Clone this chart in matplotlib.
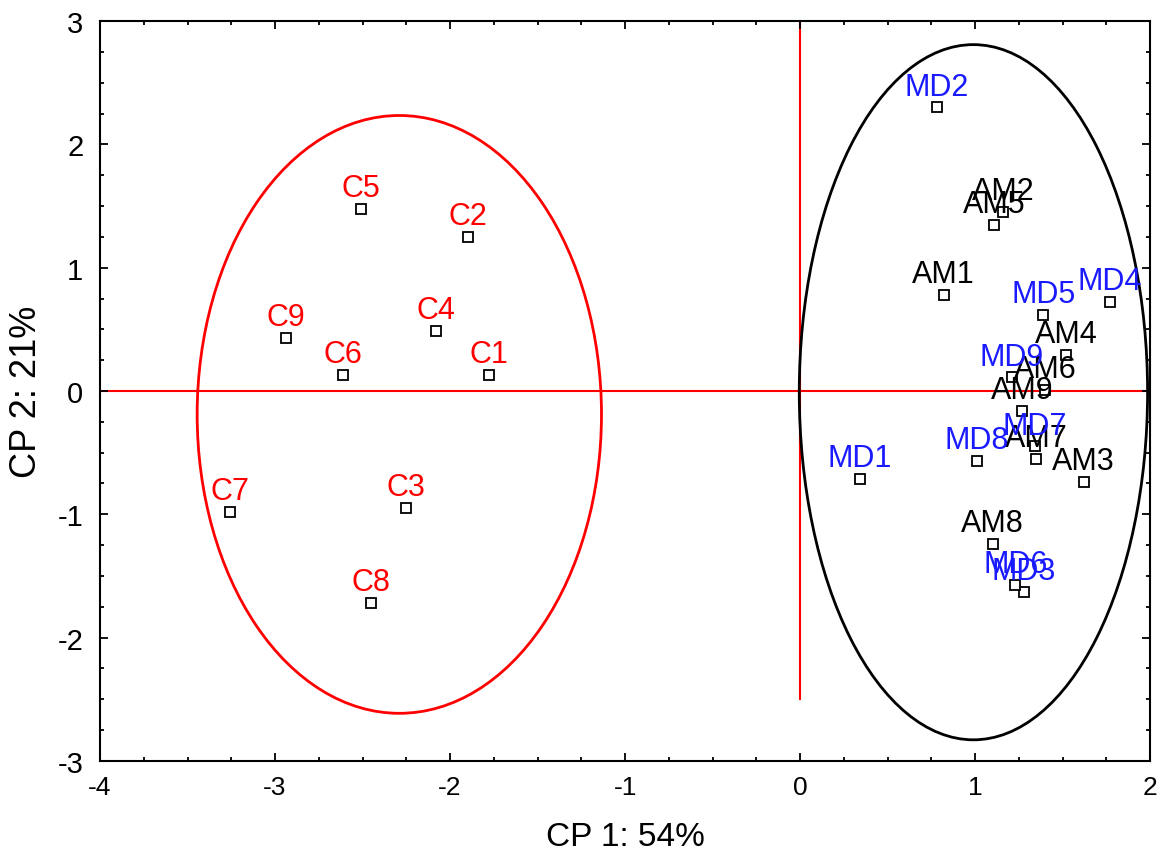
import numpy as np
import matplotlib.pyplot as plt
from matplotlib.patches import Ellipse
from matplotlib.ticker import MultipleLocator

plt.rcParams['font.family'] = ['Liberation Sans', 'DejaVu Sans']
plt.rcParams['axes.unicode_minus'] = False

# group C (red)
c_names = ['C1', 'C2', 'C3', 'C4', 'C5', 'C6', 'C7', 'C8', 'C9']
c_x = [-1.78, -1.90, -2.25, -2.08, -2.51, -2.61, -3.26, -2.45, -2.94]
c_y = [0.13, 1.25, -0.95, 0.49, 1.48, 0.13, -0.98, -1.72, 0.43]

# group AM (black)
am_names = ['AM1', 'AM2', 'AM3', 'AM4', 'AM5', 'AM6', 'AM7', 'AM8', 'AM9']
am_x = [0.82, 1.16, 1.62, 1.52, 1.11, 1.40, 1.35, 1.10, 1.27]
am_y = [0.78, 1.45, -0.74, 0.29, 1.35, 0.01, -0.55, -1.24, -0.16]

# group MD (blue)
md_names = ['MD1', 'MD2', 'MD3', 'MD4', 'MD5', 'MD6', 'MD7', 'MD8', 'MD9']
md_x = [0.34, 0.78, 1.28, 1.77, 1.39, 1.23, 1.34, 1.01, 1.21]
md_y = [-0.71, 2.30, -1.63, 0.72, 0.62, -1.57, -0.45, -0.57, 0.11]

# confidence ellipses: centre x, centre y, width, height
red_ell = (-2.29, -0.19, 2.31, 4.85)
black_ell = (0.99, -0.01, 1.99, 5.64)

fig = plt.figure(figsize=(11.63, 8.54), dpi=100)
ax = fig.add_axes([0.086, 0.108, 0.903, 0.866])

ax.axhline(0, color='red', lw=1.5, zorder=1)
ax.plot([0, 0], [-2.5, 3], color='red', lw=1.5, zorder=1)

ax.add_patch(Ellipse(red_ell[:2], red_ell[2], red_ell[3], fill=False,
                     ec='red', lw=2, zorder=2))
ax.add_patch(Ellipse(black_ell[:2], black_ell[2], black_ell[3], fill=False,
                     ec='black', lw=2, zorder=2))

all_x = c_x + am_x + md_x
all_y = c_y + am_y + md_y
ax.plot(all_x, all_y, 's', ms=7, mfc='white', mec='black', mew=1.3,
        ls='none', zorder=3)

groups = [(c_names, c_x, c_y, 'red'),
          (am_names, am_x, am_y, 'black'),
          (md_names, md_x, md_y, '#1a1aff')]
for names, xs, ys, col in groups:
    for n, x, y in zip(names, xs, ys):
        ax.annotate(n, (x, y), xytext=(0, 15), textcoords='offset points',
                    ha='center', va='center', color=col, fontsize=22,
                    zorder=4)

ax.set_xlim(-4, 2)
ax.set_ylim(-3, 3)
ax.xaxis.set_major_locator(MultipleLocator(1))
ax.xaxis.set_minor_locator(MultipleLocator(0.25))
ax.yaxis.set_major_locator(MultipleLocator(1))
ax.yaxis.set_minor_locator(MultipleLocator(0.25))
ax.tick_params(which='both', direction='in', top=True, right=True, width=1.3)
ax.tick_params(which='major', length=6)
ax.tick_params(which='minor', length=3)
ax.tick_params(axis='y', labelsize=21, pad=12)
ax.tick_params(axis='x', labelsize=19, pad=10)
for s in ax.spines.values():
    s.set_linewidth(1.5)

ax.set_xlabel('CP 1: 54%', fontsize=24, labelpad=16)
ax.set_ylabel('CP 2: 21%', fontsize=26, labelpad=10)

fig.savefig('out.png', dpi=100)
